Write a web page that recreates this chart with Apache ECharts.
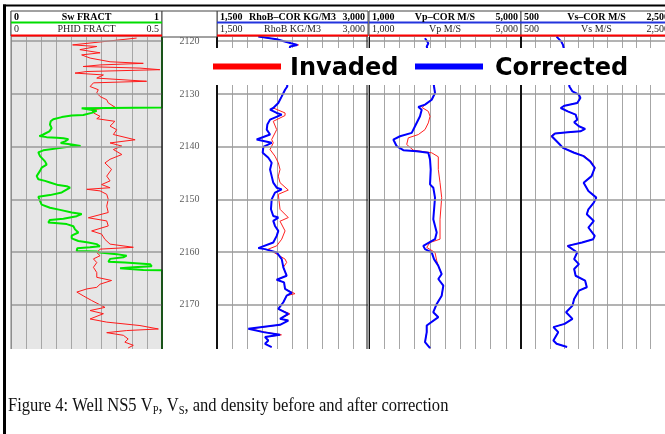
<!DOCTYPE html>
<html>
<head>
<meta charset="utf-8">
<script src="https://cdn.jsdelivr.net/npm/echarts@6/dist/echarts.min.js"></script>
<style>
html, body { margin: 0; padding: 0; background: #fff; }
#chart { width: 665px; height: 434px; }
</style>
</head>
<body>
<div id="chart"></div>
<script>
// depth window of the log (m)
var depthMin = 2119.2;
var depthMax = 2178.4;
var depthTicks = [2120, 2130, 2140, 2150, 2160, 2170];

// curves as [value, depth]
var swCurve = [
  [1, 2119.2], [1, 2132.6], [0.468, 2132.7], [0.567, 2133.2], [0.534, 2133.6], [0.479, 2134.0],
  [0.402, 2134.1], [0.336, 2134.4], [0.28, 2134.8], [0.263, 2135.2], [0.258, 2135.8], [0.269, 2136.5],
  [0.254, 2137.1], [0.214, 2137.7], [0.188, 2138.0], [0.236, 2138.2], [0.302, 2138.3], [0.347, 2138.4],
  [0.38, 2138.6], [0.358, 2139.0], [0.329, 2139.3], [0.402, 2139.6], [0.461, 2139.9], [0.391, 2140.0],
  [0.214, 2140.7], [0.181, 2141.1], [0.192, 2141.8], [0.225, 2142.8], [0.236, 2143.4], [0.203, 2144.0],
  [0.192, 2144.6], [0.17, 2145.6], [0.181, 2146.2], [0.225, 2146.5], [0.258, 2146.8], [0.313, 2147.3],
  [0.369, 2147.5], [0.391, 2147.8], [0.38, 2148.1], [0.336, 2148.7], [0.258, 2149.2], [0.181, 2149.5],
  [0.192, 2150.3], [0.203, 2151.0], [0.258, 2151.6], [0.325, 2152.0], [0.402, 2152.5], [0.468, 2152.8],
  [0.435, 2153.2], [0.347, 2153.7], [0.258, 2153.9], [0.247, 2154.4], [0.291, 2154.5], [0.369, 2154.7],
  [0.413, 2155.1], [0.424, 2155.7], [0.446, 2156.3], [0.402, 2156.9], [0.402, 2157.4], [0.446, 2157.9],
  [0.512, 2158.2], [0.567, 2158.5], [0.589, 2158.9], [0.523, 2159.1], [0.439, 2159.3], [0.435, 2159.8],
  [0.567, 2159.9], [0.589, 2160.1], [0.70, 2160.4], [0.766, 2160.7], [0.744, 2161.0], [0.656, 2161.3],
  [0.645, 2161.85], [0.755, 2162.0], [0.921, 2162.3], [0.932, 2162.7], [0.81, 2162.9], [0.722, 2163.1],
  [0.876, 2163.4], [1, 2163.45], [1, 2178.4]
];

var phidCurve = [
  [0.416, 2119.4], [0.204, 2120.7], [0.284, 2121.0], [0.228, 2121.6], [0.295, 2122.2], [0.234, 2122.6],
  [0.262, 2123.2], [0.328, 2123.9], [0.438, 2124.2], [0.295, 2124.5], [0.239, 2124.8], [0.427, 2125.1],
  [0.493, 2125.4], [0.251, 2125.75], [0.212, 2126.05], [0.306, 2126.4], [0.284, 2127.0], [0.449, 2127.6],
  [0.273, 2127.9], [0.262, 2128.6], [0.289, 2129.2], [0.284, 2129.8], [0.295, 2130.5], [0.317, 2131.1],
  [0.322, 2131.7], [0.344, 2132.5], [0.267, 2133.0], [0.273, 2133.6], [0.295, 2134.25], [0.284, 2134.7],
  [0.344, 2135.2], [0.328, 2136.1], [0.35, 2136.8], [0.339, 2137.7], [0.411, 2138.7], [0.328, 2139.3],
  [0.367, 2139.9], [0.339, 2140.55], [0.367, 2141.5], [0.328, 2142.4], [0.311, 2143.1], [0.333, 2144.3],
  [0.317, 2145.6], [0.328, 2146.5], [0.30, 2147.2], [0.328, 2147.8], [0.251, 2148.1], [0.295, 2148.4],
  [0.317, 2149.05], [0.322, 2150.0], [0.317, 2151.3], [0.322, 2152.5], [0.256, 2153.5], [0.317, 2154.1],
  [0.322, 2155.05], [0.267, 2156.0], [0.30, 2156.6], [0.311, 2157.6], [0.328, 2158.5], [0.405, 2159.1],
  [0.295, 2159.45], [0.284, 2160.1], [0.295, 2160.7], [0.273, 2161.3], [0.284, 2162.0], [0.273, 2162.9],
  [0.284, 2163.9], [0.284, 2164.8], [0.333, 2165.4], [0.295, 2166.1], [0.284, 2166.7], [0.251, 2167.0],
  [0.218, 2167.6], [0.239, 2168.3], [0.267, 2169.2], [0.311, 2170.5], [0.262, 2171.1], [0.306, 2171.7],
  [0.262, 2172.7], [0.317, 2173.3], [0.427, 2173.95], [0.488, 2174.6], [0.383, 2174.9], [0.317, 2175.3],
  [0.372, 2175.8], [0.388, 2176.5], [0.377, 2177.1], [0.405, 2177.7], [0.388, 2178.2]
];

var rhobCorCurve = [
  [1910, 2119.13], [2093, 2119.62], [2235, 2120.38], [2298, 2120.7], [2225, 2121.02], [2200, 2124.5],
  [2198, 2128.58], [2176, 2129.21], [2143, 2130.47], [2109, 2131.72], [2059, 2132.67], [2027, 2132.99],
  [2093, 2133.61], [2143, 2133.93], [2027, 2134.88], [2000, 2135.82], [1994, 2136.77], [2027, 2137.71],
  [1894, 2138.66], [2043, 2139.28], [1960, 2140.04], [1954, 2141.17], [2010, 2142.12], [2043, 2143.06],
  [2027, 2144.33], [2043, 2145.6], [2059, 2146.84], [2093, 2147.79], [2143, 2148.11], [2076, 2148.73],
  [2043, 2150.0], [2036, 2151.89], [2059, 2153.16], [2109, 2153.46], [2059, 2154.1], [2076, 2155.05],
  [2109, 2155.99], [2093, 2156.94], [2059, 2158.19], [1910, 2159.26], [1977, 2159.45], [2093, 2160.08],
  [2143, 2161.34], [2159, 2162.91], [2192, 2164.5], [2093, 2165.26], [2166, 2165.75], [2176, 2167.01],
  [2242, 2167.77], [2192, 2168.28], [2159, 2169.53], [2109, 2170.79], [2208, 2171.74], [2126, 2172.68],
  [2208, 2173.0], [2126, 2173.82], [1811, 2174.57], [1960, 2175.2], [2126, 2175.71], [1977, 2176.14],
  [2010, 2176.79], [1977, 2177.41], [2043, 2178.03]
];

var rhobCurve = [
  [1910, 2119.13], [2093, 2119.62], [2235, 2120.38], [2310, 2120.7], [2225, 2121.02], [2200, 2124.5],
  [2198, 2128.58], [2176, 2129.21], [2143, 2130.47], [2109, 2131.72], [2059, 2132.67], [2060, 2133.0],
  [2176, 2133.61], [2176, 2134.1], [2059, 2135.2], [2093, 2136.77], [2043, 2138.66], [2059, 2139.28],
  [2027, 2140.55], [2076, 2141.81], [2109, 2143.06], [2126, 2144.33], [2109, 2145.6], [2126, 2146.84],
  [2208, 2148.24], [2109, 2149.05], [2126, 2149.38], [2126, 2151.89], [2208, 2153.46], [2126, 2154.16],
  [2176, 2155.99], [2143, 2157.56], [2093, 2158.83], [2010, 2159.45], [2176, 2161.34], [2192, 2161.97],
  [2159, 2162.91], [2192, 2164.5], [2093, 2165.26], [2166, 2165.75], [2176, 2167.01], [2275, 2167.9],
  [2192, 2168.28], [2159, 2169.53], [2109, 2170.79], [2225, 2171.74], [2126, 2172.68], [2208, 2173.0],
  [2126, 2173.82], [1830, 2174.57], [1977, 2175.2], [2140, 2175.71], [1977, 2176.14], [2010, 2176.79],
  [1977, 2177.41], [2043, 2178.03]
];

var vpCorCurve = [
  [2474, 2119.43], [2561, 2120.38], [2519, 2121.02], [2650, 2125.0], [2711, 2128.58], [2737, 2129.83],
  [2650, 2131.1], [2474, 2132.04], [2298, 2132.48], [2387, 2132.99], [2342, 2134.25], [2211, 2136.14],
  [2124, 2137.39], [1816, 2138.03], [1640, 2138.66], [1729, 2139.92], [1903, 2140.67], [2255, 2140.86],
  [2561, 2141.17], [2606, 2142.44], [2624, 2144.33], [2606, 2147.16], [2692, 2147.79], [2737, 2149.68],
  [2763, 2150.0], [2692, 2153.78], [2782, 2156.29], [2737, 2157.56], [2429, 2158.83], [2474, 2159.45],
  [2650, 2160.08], [2711, 2161.34], [2824, 2162.61], [2913, 2164.18], [2824, 2165.12], [2956, 2166.39],
  [2913, 2168.28], [2782, 2169.85], [2692, 2171.42], [2824, 2172.36], [2519, 2173.95], [2519, 2175.2],
  [2474, 2177.09], [2606, 2178.22]
];

var vpCurve = [
  [2474, 2119.43], [2561, 2120.38], [2519, 2121.02], [2650, 2125.0], [2711, 2128.58], [2737, 2129.83],
  [2650, 2131.1], [2474, 2132.04], [2400, 2132.6], [2561, 2133.31], [2606, 2134.25], [2561, 2135.5],
  [2474, 2136.77], [2298, 2137.71], [2034, 2138.34], [1992, 2139.6], [2166, 2140.67], [2650, 2141.17],
  [2824, 2141.93], [2824, 2144.33], [2869, 2146.84], [2913, 2149.68], [2913, 2150.0], [2869, 2153.78],
  [2869, 2157.56], [2606, 2158.19], [2519, 2159.13], [2737, 2160.08], [2782, 2161.66], [2824, 2162.61],
  [2913, 2164.18], [2824, 2165.12], [2956, 2166.39], [2913, 2168.28], [2782, 2169.85], [2692, 2171.42],
  [2824, 2172.36], [2519, 2173.95], [2519, 2175.2], [2474, 2177.09], [2606, 2178.22]
];

var vsCorCurve = [
  [994, 2119.13], [1060, 2120.08], [1083, 2120.7], [1150, 2125.0], [1172, 2128.58], [1215, 2129.53],
  [1304, 2130.15], [1325, 2130.78], [1281, 2131.72], [1105, 2132.23], [1052, 2132.67], [1149, 2133.31],
  [1259, 2133.93], [1281, 2134.88], [1238, 2135.39], [1304, 2136.14], [1391, 2136.64], [1325, 2137.09],
  [1149, 2137.28], [973, 2137.52], [928, 2138.03], [1039, 2139.6], [1083, 2140.23], [1238, 2141.17],
  [1370, 2141.81], [1458, 2142.76], [1524, 2144.01], [1480, 2145.6], [1370, 2146.84], [1436, 2148.43],
  [1546, 2149.68], [1511, 2150.62], [1436, 2151.89], [1414, 2152.84], [1511, 2154.1], [1436, 2155.35],
  [1524, 2156.94], [1503, 2157.56], [1348, 2158.19], [1149, 2158.83], [1126, 2159.13], [1281, 2160.08],
  [1238, 2161.34], [1304, 2162.29], [1238, 2163.23], [1259, 2164.5], [1391, 2165.44], [1414, 2166.69],
  [1304, 2167.33], [1238, 2168.9], [1215, 2170.17], [1126, 2171.42], [1215, 2172.68], [1105, 2173.63],
  [950, 2174.25], [1017, 2175.2], [950, 2176.79], [994, 2177.41], [1140, 2178.03]
];

var vsCurve = [
  [994, 2119.13], [1060, 2120.08], [1083, 2120.7], [1150, 2125.0], [1172, 2128.58], [1215, 2129.53],
  [1304, 2130.15], [1325, 2130.78], [1281, 2131.72], [1105, 2132.23], [1052, 2132.67], [1149, 2133.31],
  [1259, 2133.93], [1281, 2134.88], [1238, 2135.39], [1304, 2136.14], [1391, 2136.64], [1325, 2137.09],
  [1149, 2137.28], [960, 2137.52], [915, 2138.03], [1039, 2139.6], [1090, 2140.23], [1250, 2141.17],
  [1385, 2141.81], [1470, 2142.76], [1530, 2144.01], [1480, 2145.6], [1370, 2146.84], [1436, 2148.43],
  [1546, 2149.68], [1511, 2150.62], [1436, 2151.89], [1414, 2152.84], [1511, 2154.1], [1436, 2155.35],
  [1524, 2156.94], [1503, 2157.56], [1348, 2158.19], [1140, 2158.83], [1126, 2159.13], [1281, 2160.08],
  [1238, 2161.34], [1304, 2162.29], [1238, 2163.23], [1259, 2164.5], [1391, 2165.44], [1414, 2166.69],
  [1304, 2167.33], [1238, 2168.9], [1215, 2170.17], [1126, 2171.42], [1215, 2172.68], [1105, 2173.63],
  [950, 2174.25], [1017, 2175.2], [950, 2176.79], [994, 2177.41], [1140, 2178.03]
];

// header text of each track: [left, middle, right] for the two rows
var headerTop = [['0', 'Sw FRACT', '1'], ['1,500', 'RhoB\u2013COR KG/M3', '3,000'], ['1,000', 'Vp\u2013COR M/S', '5,000'], ['500', 'Vs\u2013COR M/S', '2,500']];
var headerBottom = [['0', 'PHID FRACT', '0.5'], ['1,500', 'RhoB KG/M3', '3,000'], ['1,000', 'Vp M/S', '5,000'], ['500', 'Vs M/S', '2,500']];
var headerTopColor = ['#00dd00', '#2233dd', '#2233dd', '#2233dd'];

var TOP = 37, H = 312;
var trackBox = [
  { left: 11, width: 151 },
  { left: 162, width: 55 },
  { left: 217, width: 151 },
  { left: 369, width: 152 },
  { left: 521, width: 151 }
];
var curveTracks = [0, 2, 3, 4];

var chart = echarts.init(document.getElementById('chart'), null, { renderer: 'canvas' });

var serif = '"Liberation Serif", "DejaVu Serif", serif';

function gridAxis(gridIndex, min, max, interval) {
  return {
    type: 'value', gridIndex: gridIndex, min: min, max: max, interval: interval,
    position: 'top',
    axisLine: { show: false }, axisTick: { show: false }, axisLabel: { show: false },
    splitLine: { show: true, lineStyle: { color: '#a6a6a6', width: 1 } }
  };
}
function hiddenAxis(gridIndex, min, max) {
  return { type: 'value', gridIndex: gridIndex, min: min, max: max, show: false, position: 'bottom' };
}

var hLines = {
  silent: true, symbol: ['none', 'none'], animation: false,
  label: { show: false },
  lineStyle: { color: '#9a9a9a', width: 1.5, type: 'solid' },
  emphasis: { disabled: true },
  data: depthTicks.map(function (d) { return { yAxis: d }; })
};

function curve(name, data, xi, yi, color, width, withLines) {
  var s = {
    name: name, type: 'line', data: data, xAxisIndex: xi, yAxisIndex: yi,
    showSymbol: false, symbol: 'none', animation: false, silent: true,
    lineStyle: { color: color, width: width }, itemStyle: { color: color }
  };
  if (withLines) s.markLine = hLines;
  return s;
}

var graphics = [];
// header boxes
curveTracks.forEach(function (ti, k) {
  var b = trackBox[ti];
  graphics.push({ type: 'rect', z: 60, shape: { x: b.left, y: 11, width: b.width, height: 25 }, style: { fill: '#fff', stroke: '#444', lineWidth: 1 } });
  graphics.push({ type: 'line', z: 61, shape: { x1: b.left, y1: 22.5, x2: b.left + b.width, y2: 22.5 }, style: { stroke: headerTopColor[k], lineWidth: 2 } });
  graphics.push({ type: 'line', z: 61, shape: { x1: b.left, y1: 35.5, x2: b.left + b.width, y2: 35.5 }, style: { stroke: '#ff0000', lineWidth: 2 } });
  var xs = [b.left + 3, b.left + b.width / 2, b.left + b.width - 3];
  var al = ['left', 'center', 'right'];
  for (var j = 0; j < 3; j++) {
    graphics.push({ type: 'text', z: 62, style: { text: headerTop[k][j], x: xs[j], y: 17, align: al[j], verticalAlign: 'middle', textAlign: al[j], textVerticalAlign: 'middle', font: 'bold 10px ' + serif, fill: '#000' } });
    graphics.push({ type: 'text', z: 62, style: { text: headerBottom[k][j], x: xs[j], y: 29.5, align: al[j], verticalAlign: 'middle', textAlign: al[j], textVerticalAlign: 'middle', font: '10px ' + serif, fill: '#222' } });
  }
});
// depth track header
graphics.push({ type: 'rect', z: 60, shape: { x: 162, y: 11, width: 55, height: 26 }, style: { fill: '#fff', stroke: '#444', lineWidth: 1 } });

// track borders
var borders = [
  { x: 11, w: 1, c: '#777' },
  { x: 162, w: 1.5, c: '#222' },
  { x: 217, w: 2, c: '#111' },
  { x: 367, w: 1, c: '#111' },
  { x: 369.5, w: 1, c: '#111' },
  { x: 521, w: 2, c: '#111' }
];
borders.forEach(function (b) {
  graphics.push({ type: 'line', z: 55, shape: { x1: b.x, y1: 11, x2: b.x, y2: TOP + H }, style: { stroke: b.c, lineWidth: b.w } });
});

// outer frame
graphics.push({ type: 'line', z: 70, shape: { x1: 4.5, y1: 4.5, x2: 4.5, y2: 434 }, style: { stroke: '#000', lineWidth: 3 } });
graphics.push({ type: 'line', z: 70, shape: { x1: 3, y1: 5.5, x2: 665, y2: 5.5 }, style: { stroke: '#000', lineWidth: 2 } });

// legend box
var legendFont = 'bold 24px "DejaVu Sans", sans-serif';
graphics.push({ type: 'rect', z: 80, shape: { x: 205, y: 48, width: 470, height: 37 }, style: { fill: '#fff' } });
graphics.push({ type: 'rect', z: 81, shape: { x: 213, y: 63.5, width: 68, height: 6 }, style: { fill: '#ff0000' } });
graphics.push({ type: 'text', z: 81, style: { text: 'Invaded', x: 290, y: 68.5, align: 'left', verticalAlign: 'middle', textAlign: 'left', textVerticalAlign: 'middle', font: legendFont, fill: '#000' } });
graphics.push({ type: 'rect', z: 81, shape: { x: 415, y: 63.5, width: 68, height: 6 }, style: { fill: '#0000ff' } });
graphics.push({ type: 'text', z: 81, style: { text: 'Corrected', x: 495, y: 68.5, align: 'left', verticalAlign: 'middle', textAlign: 'left', textVerticalAlign: 'middle', font: legendFont, fill: '#000' } });

// caption
graphics.push({
  type: 'text', z: 81, x: 8, y: 406, scaleX: 0.87,
  style: {
    text: '{a|Figure 4: Well NS5 V}{s|P}{a|, V}{s|S}{a|, and density before and after correction}',
    x: 0, y: 0, align: 'left', verticalAlign: 'middle', textAlign: 'left', textVerticalAlign: 'middle',
    fill: '#111',
    rich: {
      a: { fontFamily: 'Liberation Serif', fontSize: 19, lineHeight: 22, fill: '#111', color: '#111' },
      s: { fontFamily: 'Liberation Serif', fontSize: 12, lineHeight: 16, verticalAlign: 'bottom', fill: '#111', color: '#111' }
    }
  }
});

var option = {
  animation: false,
  backgroundColor: '#fff',
  grid: trackBox.map(function (b, i) {
    return {
      left: b.left, top: TOP, width: b.width, height: H,
      show: i === 0, backgroundColor: '#e6e6e6', borderWidth: 0
    };
  }),
  xAxis: [
    gridAxis(0, 0, 1, 0.1),          // 0 Sw
    hiddenAxis(0, 0, 0.5),           // 1 PHID
    hiddenAxis(1, 0, 1),             // 2 depth track
    gridAxis(2, 1500, 3000, 150),    // 3 RhoB
    gridAxis(3, 0, 10, 1),           // 4 Vp grid
    hiddenAxis(3, 1000, 5000),       // 5 Vp
    gridAxis(4, 0, 10, 1),           // 6 Vs grid
    hiddenAxis(4, 500, 2500)         // 7 Vs
  ],
  yAxis: trackBox.map(function (b, i) {
    return { type: 'value', gridIndex: i, inverse: true, min: depthMin, max: depthMax, show: false };
  }),
  series: [
    curve('PHID', phidCurve, 1, 0, '#ff1a1a', 1, true),
    curve('Sw', swCurve, 0, 0, '#00e600', 2, false),
    {
      name: 'depth', type: 'scatter', xAxisIndex: 2, yAxisIndex: 1, animation: false, silent: true,
      symbolSize: 1, itemStyle: { color: 'rgba(0,0,0,0)' },
      data: depthTicks.map(function (d) { return [0.5, d]; }),
      label: {
        show: true, position: 'inside', color: '#333', fontFamily: 'Liberation Serif', fontSize: 10,
        formatter: function (p) { return String(p.value[1]); }
      }
    },
    curve('RhoB', rhobCurve, 3, 2, '#ff2020', 1, true),
    curve('RhoB-COR', rhobCorCurve, 3, 2, '#0000ff', 2, false),
    curve('Vp', vpCurve, 5, 3, '#ff2020', 1, true),
    curve('Vp-COR', vpCorCurve, 5, 3, '#0000ff', 2, false),
    curve('Vs', vsCurve, 7, 4, '#ff2020', 1, true),
    curve('Vs-COR', vsCorCurve, 7, 4, '#0000ff', 2, false)
  ],
  graphic: { elements: graphics }
};

chart.setOption(option);
</script>
</body>
</html>
